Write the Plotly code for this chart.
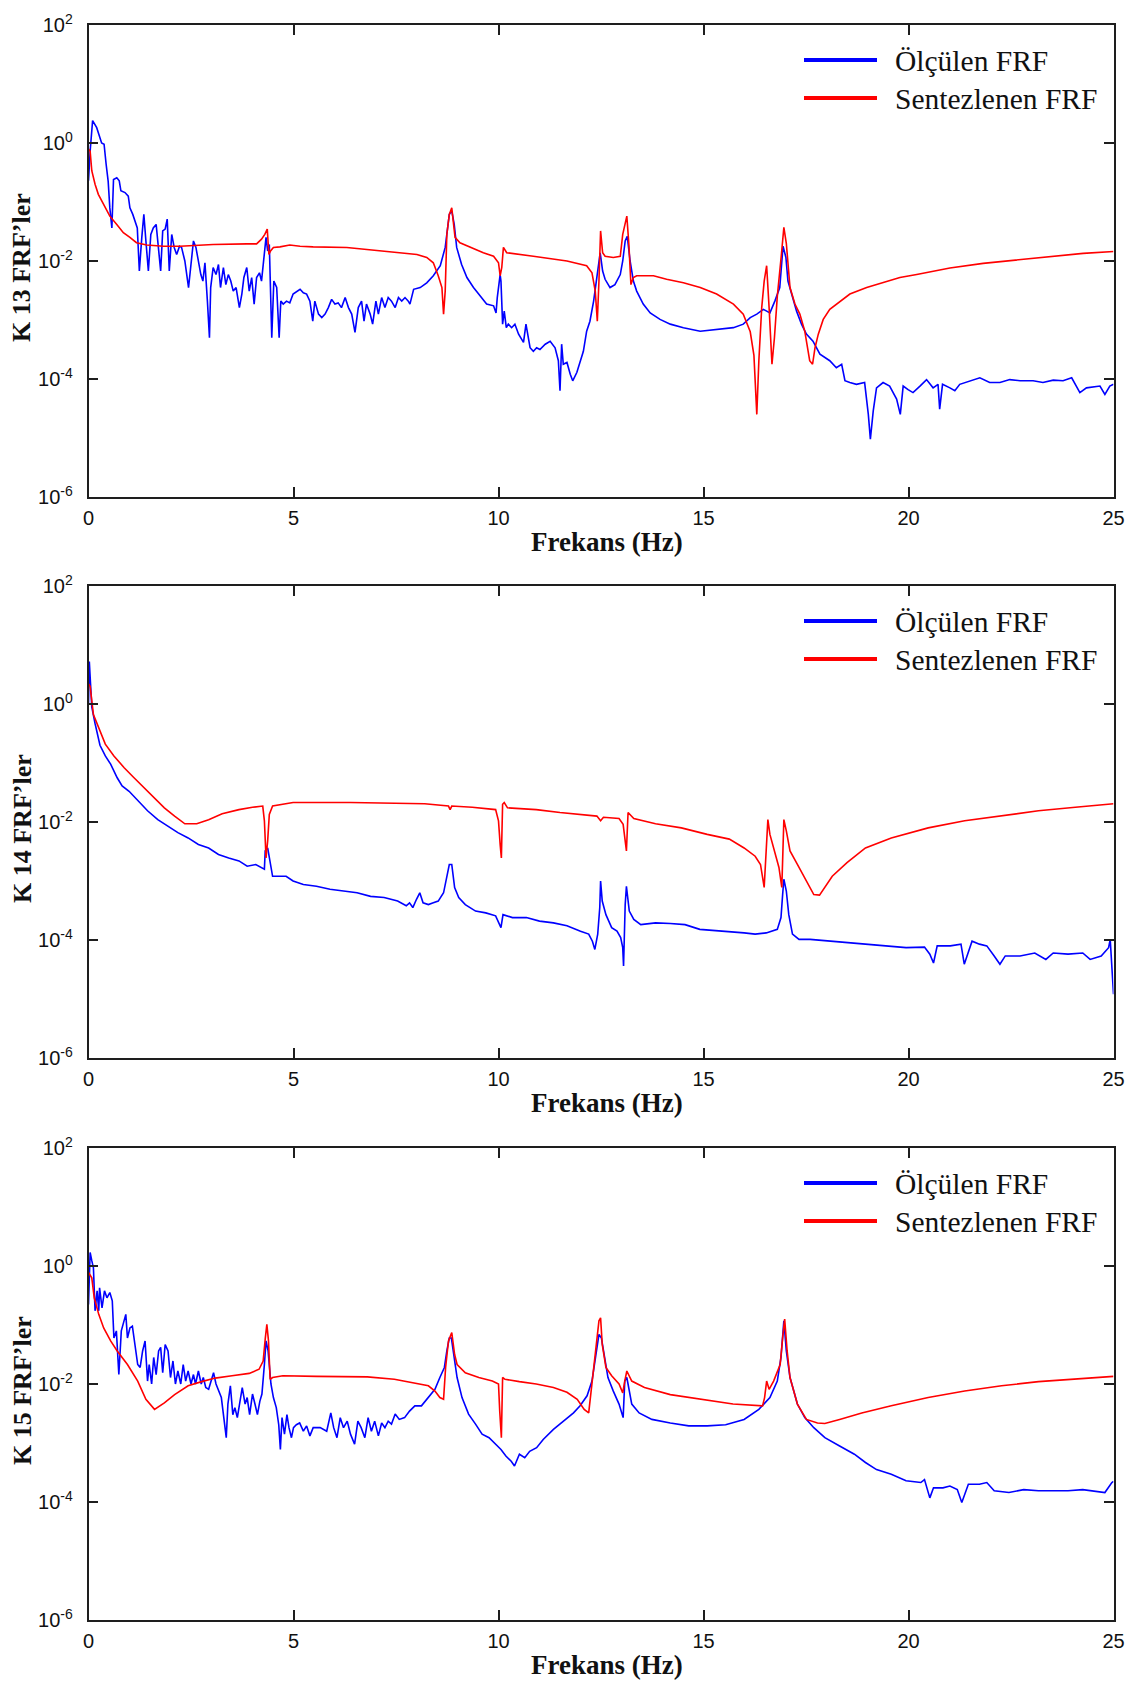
import numpy as np
import plotly.graph_objects as go
from plotly.subplots import make_subplots

# (frequency in Hz, log10 of |FRF|) readings for each curve
k13_olculen = [
    (0.00, -0.64), (0.04, -0.14), (0.10, 0.38), (0.20, 0.26), (0.32, 0.00), (0.38, -0.02),
    (0.43, -0.36), (0.48, -0.65), (0.52, -1.10), (0.57, -1.44), (0.61, -0.62), (0.69, -0.59),
    (0.75, -0.64), (0.79, -0.81), (0.89, -0.84), (0.97, -0.90), (1.01, -1.10), (1.08, -1.21),
    (1.19, -1.44), (1.24, -2.17), (1.30, -1.60), (1.35, -1.21), (1.40, -1.66), (1.46, -2.17),
    (1.52, -1.55), (1.58, -1.44), (1.65, -1.38), (1.70, -1.77), (1.76, -2.17), (1.81, -1.49),
    (1.87, -1.46), (1.92, -1.29), (1.97, -2.17), (2.03, -1.55), (2.09, -1.77), (2.15, -1.89),
    (2.22, -1.75), (2.27, -1.77), (2.35, -2.00), (2.44, -2.45), (2.49, -2.11), (2.56, -1.66),
    (2.62, -1.77), (2.68, -2.00), (2.74, -2.23), (2.79, -2.34), (2.84, -2.03), (2.90, -2.68),
    (2.95, -3.30), (2.98, -2.45), (3.04, -2.11), (3.11, -2.23), (3.17, -2.06), (3.22, -2.45),
    (3.29, -2.11), (3.35, -2.40), (3.41, -2.23), (3.47, -2.34), (3.53, -2.51), (3.60, -2.45),
    (3.68, -2.79), (3.74, -2.56), (3.79, -2.28), (3.86, -2.11), (3.92, -2.51), (3.98, -2.28),
    (4.04, -2.73), (4.10, -2.28), (4.17, -2.20), (4.22, -2.34), (4.28, -1.94), (4.33, -1.60),
    (4.37, -1.83), (4.41, -1.72), (4.47, -3.30), (4.52, -2.34), (4.59, -2.45), (4.65, -3.30),
    (4.69, -2.68), (4.75, -2.73), (4.83, -2.68), (4.91, -2.71), (4.99, -2.56), (5.08, -2.51),
    (5.16, -2.48), (5.24, -2.54), (5.32, -2.56), (5.40, -2.68), (5.47, -3.02), (5.52, -2.68),
    (5.61, -2.90), (5.69, -2.96), (5.77, -2.90), (5.85, -2.79), (5.93, -2.65), (6.01, -2.73),
    (6.09, -2.71), (6.17, -2.79), (6.26, -2.62), (6.34, -2.79), (6.42, -2.90), (6.50, -3.21),
    (6.58, -2.79), (6.66, -2.68), (6.72, -3.02), (6.78, -2.73), (6.87, -2.90), (6.93, -3.07),
    (7.01, -2.68), (7.07, -2.90), (7.15, -2.62), (7.23, -2.79), (7.31, -2.62), (7.39, -2.68),
    (7.48, -2.79), (7.56, -2.62), (7.64, -2.68), (7.72, -2.62), (7.80, -2.68), (7.84, -2.73),
    (7.93, -2.48), (8.09, -2.45), (8.25, -2.37), (8.41, -2.25), (8.58, -2.08), (8.70, -1.77),
    (8.75, -1.46), (8.80, -1.21), (8.86, -1.15), (8.92, -1.38), (8.98, -1.77), (9.10, -2.06),
    (9.23, -2.28), (9.39, -2.45), (9.55, -2.59), (9.71, -2.73), (9.88, -2.76), (9.94, -2.88),
    (9.97, -2.62), (10.04, -2.23), (10.06, -2.34), (10.10, -3.07), (10.14, -2.85), (10.19, -3.13),
    (10.24, -3.07), (10.32, -3.13), (10.40, -3.07), (10.49, -3.24), (10.61, -3.38), (10.67, -3.07),
    (10.77, -3.47), (10.85, -3.53), (10.93, -3.47), (11.01, -3.50), (11.14, -3.41), (11.26, -3.36),
    (11.38, -3.47), (11.46, -3.69), (11.50, -4.20), (11.54, -3.41), (11.58, -3.75), (11.67, -3.72),
    (11.75, -3.92), (11.81, -4.03), (11.91, -3.89), (11.99, -3.69), (12.07, -3.53), (12.15, -3.19),
    (12.23, -3.02), (12.32, -2.68), (12.40, -2.23), (12.45, -1.94), (12.48, -1.86), (12.54, -2.17),
    (12.60, -2.31), (12.72, -2.45), (12.84, -2.40), (12.97, -2.23), (13.03, -2.00), (13.09, -1.66),
    (13.14, -1.58), (13.21, -2.00), (13.29, -2.34), (13.37, -2.51), (13.53, -2.73), (13.70, -2.88),
    (13.94, -2.99), (14.19, -3.07), (14.51, -3.13), (14.92, -3.19), (15.32, -3.16), (15.73, -3.13),
    (15.97, -3.07), (16.14, -2.96), (16.30, -2.90), (16.46, -2.82), (16.54, -2.85), (16.62, -2.88),
    (16.74, -2.68), (16.86, -2.45), (16.94, -1.75), (17.01, -1.94), (17.06, -2.34), (17.15, -2.56),
    (17.27, -2.85), (17.39, -3.07), (17.51, -3.24), (17.67, -3.36), (17.84, -3.58), (18.08, -3.69),
    (18.24, -3.81), (18.37, -3.75), (18.45, -4.03), (18.57, -4.06), (18.73, -4.09), (18.93, -4.06),
    (19.02, -4.60), (19.07, -5.02), (19.14, -4.54), (19.22, -4.15), (19.38, -4.06), (19.54, -4.12),
    (19.71, -4.34), (19.80, -4.60), (19.87, -4.12), (19.99, -4.18), (20.11, -4.23), (20.28, -4.12),
    (20.44, -4.01), (20.60, -4.15), (20.72, -4.09), (20.76, -4.51), (20.83, -4.09), (21.01, -4.15),
    (21.13, -4.20), (21.25, -4.09), (21.50, -4.03), (21.74, -3.98), (21.98, -4.06), (22.23, -4.06),
    (22.47, -4.01), (22.72, -4.03), (23.04, -4.03), (23.28, -4.06), (23.53, -4.02), (23.77, -4.03),
    (23.98, -3.98), (24.18, -4.23), (24.34, -4.15), (24.67, -4.12), (24.79, -4.26), (24.91, -4.12),
    (25.00, -4.09),
]

k13_sentez = [
    (0.00, -0.10), (0.04, -0.14), (0.08, -0.47), (0.16, -0.70), (0.24, -0.87), (0.36, -1.04),
    (0.52, -1.24), (0.69, -1.38), (0.85, -1.52), (1.01, -1.60), (1.17, -1.69), (1.42, -1.73),
    (1.83, -1.75), (2.23, -1.75), (3.04, -1.72), (3.86, -1.71), (4.10, -1.71), (4.22, -1.63),
    (4.30, -1.55), (4.36, -1.46), (4.40, -1.89), (4.44, -1.83), (4.51, -1.77), (4.67, -1.76),
    (4.91, -1.73), (5.16, -1.75), (5.48, -1.76), (6.30, -1.77), (7.11, -1.83), (7.52, -1.86),
    (8.01, -1.89), (8.25, -1.94), (8.41, -2.03), (8.53, -2.25), (8.62, -2.45), (8.66, -2.90),
    (8.70, -2.51), (8.74, -1.55), (8.80, -1.21), (8.86, -1.10), (8.90, -1.38), (8.94, -1.60),
    (9.06, -1.69), (9.31, -1.77), (9.63, -1.86), (9.88, -1.92), (10.00, -2.03), (10.04, -2.25),
    (10.08, -2.11), (10.12, -1.77), (10.20, -1.86), (10.85, -1.92), (11.67, -2.00), (12.15, -2.08),
    (12.28, -2.20), (12.36, -2.51), (12.41, -3.02), (12.45, -2.34), (12.49, -1.49), (12.54, -1.86),
    (12.60, -1.92), (12.80, -1.94), (12.97, -1.92), (13.03, -1.55), (13.09, -1.38), (13.13, -1.24),
    (13.18, -1.72), (13.23, -2.40), (13.29, -2.28), (13.37, -2.25), (13.78, -2.25), (14.10, -2.31),
    (14.51, -2.37), (14.92, -2.45), (15.32, -2.56), (15.73, -2.73), (15.97, -2.90), (16.14, -3.20),
    (16.23, -3.60), (16.30, -4.60), (16.35, -3.69), (16.42, -2.79), (16.48, -2.34), (16.54, -2.08),
    (16.60, -2.79), (16.67, -3.75), (16.73, -3.30), (16.80, -2.60), (16.90, -1.89), (16.96, -1.43),
    (17.02, -1.70), (17.11, -2.45), (17.23, -2.73), (17.35, -2.90), (17.47, -3.19), (17.59, -3.69),
    (17.66, -3.75), (17.72, -3.47), (17.80, -3.24), (17.92, -2.99), (18.08, -2.82), (18.33, -2.68),
    (18.57, -2.56), (18.98, -2.45), (19.38, -2.37), (19.79, -2.28), (20.20, -2.23), (21.01, -2.12),
    (21.82, -2.04), (22.63, -1.98), (23.45, -1.93), (24.26, -1.87), (25.00, -1.84),
]

k14_olculen = [
    (0.00, 0.00), (0.02, 0.72), (0.05, 0.34), (0.08, -0.05), (0.16, -0.33), (0.28, -0.70),
    (0.41, -0.88), (0.54, -1.02), (0.70, -1.25), (0.82, -1.39), (0.99, -1.48), (1.20, -1.64),
    (1.44, -1.81), (1.69, -1.96), (1.94, -2.07), (2.18, -2.18), (2.43, -2.27), (2.68, -2.38),
    (2.93, -2.44), (3.17, -2.55), (3.42, -2.61), (3.67, -2.66), (3.87, -2.75), (4.08, -2.72),
    (4.29, -2.80), (4.31, -2.49), (4.37, -2.44), (4.43, -2.66), (4.49, -2.92), (4.66, -2.92),
    (4.82, -2.92), (4.99, -3.00), (5.24, -3.06), (5.56, -3.09), (5.89, -3.14), (6.22, -3.17),
    (6.55, -3.20), (6.88, -3.26), (7.21, -3.28), (7.54, -3.34), (7.75, -3.42), (7.83, -3.37),
    (7.91, -3.45), (8.00, -3.31), (8.08, -3.20), (8.16, -3.37), (8.29, -3.40), (8.41, -3.37),
    (8.53, -3.34), (8.66, -3.20), (8.74, -2.94), (8.80, -2.72), (8.86, -2.72), (8.93, -3.11),
    (9.03, -3.28), (9.19, -3.40), (9.44, -3.51), (9.69, -3.54), (9.93, -3.59), (10.02, -3.71),
    (10.06, -3.79), (10.11, -3.57), (10.34, -3.62), (10.68, -3.62), (11.00, -3.68), (11.34, -3.71),
    (11.67, -3.76), (12.00, -3.85), (12.20, -3.90), (12.29, -4.02), (12.35, -4.16), (12.42, -3.90),
    (12.47, -3.45), (12.49, -3.00), (12.53, -3.34), (12.62, -3.57), (12.76, -3.79), (12.89, -3.85),
    (12.98, -3.96), (13.03, -4.13), (13.05, -4.44), (13.09, -3.40), (13.12, -3.09), (13.19, -3.51),
    (13.30, -3.65), (13.47, -3.74), (13.83, -3.71), (14.19, -3.72), (14.55, -3.74), (14.91, -3.82),
    (15.27, -3.84), (15.63, -3.85), (15.99, -3.88), (16.26, -3.90), (16.53, -3.88), (16.80, -3.82),
    (16.89, -3.62), (16.93, -3.23), (16.96, -2.97), (17.02, -3.17), (17.08, -3.57), (17.17, -3.90),
    (17.33, -3.99), (17.60, -3.99), (17.96, -4.01), (18.68, -4.05), (19.40, -4.10), (19.94, -4.13),
    (20.39, -4.12), (20.52, -4.24), (20.61, -4.39), (20.70, -4.10), (21.02, -4.10), (21.28, -4.07),
    (21.36, -4.41), (21.46, -4.19), (21.55, -4.02), (21.73, -4.07), (21.91, -4.10), (22.09, -4.27),
    (22.23, -4.41), (22.36, -4.27), (22.72, -4.27), (23.08, -4.22), (23.35, -4.33), (23.53, -4.22),
    (23.89, -4.24), (24.25, -4.22), (24.43, -4.33), (24.70, -4.27), (24.88, -4.13), (24.92, -3.99),
    (24.97, -4.70), (25.00, -4.92),
]

k14_sentez = [
    (0.00, 0.34), (0.04, 0.30), (0.12, -0.18), (0.25, -0.40), (0.41, -0.68), (0.62, -0.88),
    (0.87, -1.08), (1.11, -1.25), (1.36, -1.42), (1.61, -1.59), (1.85, -1.76), (2.10, -1.90),
    (2.35, -2.03), (2.64, -2.03), (2.93, -1.96), (3.26, -1.86), (3.67, -1.79), (4.00, -1.75),
    (4.25, -1.73), (4.29, -1.98), (4.33, -2.61), (4.37, -2.32), (4.41, -1.87), (4.49, -1.73),
    (4.99, -1.67), (6.39, -1.67), (8.20, -1.69), (8.78, -1.73), (8.82, -1.79), (8.86, -1.73),
    (9.36, -1.75), (9.93, -1.79), (10.00, -1.98), (10.04, -2.38), (10.07, -2.61), (10.10, -1.70),
    (10.14, -1.67), (10.22, -1.76), (10.92, -1.79), (11.50, -1.84), (12.04, -1.87), (12.40, -1.90),
    (12.49, -1.98), (12.56, -1.92), (12.94, -1.94), (13.04, -2.04), (13.12, -2.49), (13.16, -1.84),
    (13.30, -1.94), (13.83, -2.03), (14.46, -2.10), (15.09, -2.21), (15.63, -2.29), (15.99, -2.44),
    (16.26, -2.58), (16.39, -2.72), (16.48, -3.11), (16.53, -2.32), (16.57, -1.96), (16.62, -2.21),
    (16.71, -2.44), (16.84, -2.77), (16.91, -3.11), (16.96, -1.96), (17.02, -2.15), (17.11, -2.49),
    (17.29, -2.72), (17.51, -3.00), (17.69, -3.23), (17.83, -3.24), (17.96, -3.11), (18.14, -2.92),
    (18.50, -2.69), (18.95, -2.44), (19.58, -2.27), (20.48, -2.10), (21.37, -1.98), (22.27, -1.90),
    (23.17, -1.81), (24.07, -1.75), (24.96, -1.70), (25.00, -1.69),
]

k15_olculen = [
    (0.00, -0.65), (0.04, 0.23), (0.08, 0.09), (0.12, -0.03), (0.16, -0.76), (0.21, -0.42),
    (0.25, -0.76), (0.27, -0.37), (0.33, -0.71), (0.39, -0.42), (0.45, -0.54), (0.52, -0.45),
    (0.58, -0.59), (0.62, -1.22), (0.68, -1.10), (0.74, -1.84), (0.80, -1.10), (0.87, -0.93),
    (0.91, -0.82), (0.95, -1.22), (1.01, -1.05), (1.07, -1.02), (1.13, -1.33), (1.20, -1.67),
    (1.26, -1.72), (1.32, -1.44), (1.38, -1.27), (1.44, -1.95), (1.48, -1.67), (1.54, -2.00),
    (1.59, -1.55), (1.65, -1.84), (1.71, -1.44), (1.76, -1.38), (1.81, -1.81), (1.87, -1.33),
    (1.94, -1.44), (2.00, -1.89), (2.06, -1.61), (2.12, -2.00), (2.18, -1.78), (2.25, -2.00),
    (2.31, -1.67), (2.37, -1.95), (2.43, -1.78), (2.50, -2.00), (2.56, -1.84), (2.61, -2.00),
    (2.68, -1.78), (2.75, -2.00), (2.80, -1.89), (2.86, -2.06), (2.93, -2.09), (2.99, -1.95),
    (3.05, -1.81), (3.11, -2.00), (3.17, -2.12), (3.24, -2.23), (3.30, -2.57), (3.36, -2.91),
    (3.40, -2.34), (3.46, -2.03), (3.52, -2.52), (3.57, -2.40), (3.63, -2.57), (3.69, -2.29),
    (3.75, -2.06), (3.82, -2.34), (3.87, -2.23), (3.93, -2.52), (4.00, -2.17), (4.06, -2.34),
    (4.12, -2.52), (4.18, -2.29), (4.23, -2.17), (4.29, -1.67), (4.33, -1.27), (4.38, -1.44),
    (4.41, -1.67), (4.45, -2.00), (4.51, -2.23), (4.58, -2.40), (4.64, -2.69), (4.68, -3.11),
    (4.72, -2.57), (4.78, -2.85), (4.84, -2.52), (4.89, -2.74), (4.95, -2.91), (5.00, -2.74),
    (5.07, -2.69), (5.15, -2.66), (5.24, -2.80), (5.32, -2.71), (5.40, -2.88), (5.48, -2.74),
    (5.65, -2.74), (5.81, -2.80), (5.91, -2.49), (5.98, -2.74), (6.06, -2.91), (6.14, -2.57),
    (6.22, -2.74), (6.31, -2.63), (6.39, -2.85), (6.49, -3.02), (6.57, -2.63), (6.65, -2.74),
    (6.74, -2.91), (6.82, -2.57), (6.90, -2.80), (6.98, -2.63), (7.07, -2.88), (7.15, -2.66),
    (7.23, -2.74), (7.31, -2.63), (7.39, -2.68), (7.48, -2.51), (7.58, -2.60), (7.71, -2.57),
    (7.83, -2.46), (7.96, -2.37), (8.12, -2.37), (8.29, -2.23), (8.45, -2.09), (8.57, -1.89),
    (8.68, -1.72), (8.74, -1.44), (8.80, -1.22), (8.85, -1.22), (8.91, -1.55), (8.99, -1.89),
    (9.11, -2.23), (9.27, -2.51), (9.44, -2.68), (9.60, -2.85), (9.77, -2.91), (9.93, -3.02),
    (10.06, -3.11), (10.18, -3.22), (10.31, -3.31), (10.39, -3.39), (10.51, -3.19), (10.64, -3.25),
    (10.76, -3.14), (10.93, -3.08), (11.09, -2.94), (11.34, -2.77), (11.58, -2.63), (11.83, -2.49),
    (11.99, -2.37), (12.16, -2.20), (12.28, -1.95), (12.36, -1.55), (12.45, -1.16), (12.51, -1.22),
    (12.58, -1.55), (12.67, -1.89), (12.80, -2.12), (12.94, -2.34), (13.04, -2.57), (13.08, -1.95),
    (13.13, -1.89), (13.25, -2.34), (13.43, -2.49), (13.74, -2.60), (14.19, -2.66), (14.64, -2.71),
    (15.09, -2.71), (15.54, -2.69), (15.99, -2.60), (16.35, -2.43), (16.62, -2.23), (16.80, -1.95),
    (16.89, -1.55), (16.96, -0.93), (17.02, -1.44), (17.11, -1.89), (17.29, -2.34), (17.47, -2.57),
    (17.69, -2.74), (17.96, -2.91), (18.32, -3.05), (18.68, -3.19), (18.95, -3.33), (19.22, -3.45),
    (19.58, -3.53), (19.94, -3.64), (20.30, -3.67), (20.39, -3.62), (20.52, -3.93), (20.61, -3.76),
    (20.84, -3.76), (21.01, -3.73), (21.19, -3.79), (21.30, -4.01), (21.46, -3.70), (21.73, -3.70),
    (21.91, -3.67), (22.09, -3.81), (22.45, -3.84), (22.81, -3.79), (23.17, -3.81), (23.53, -3.81),
    (23.89, -3.81), (24.25, -3.79), (24.52, -3.81), (24.79, -3.84), (24.96, -3.67), (25.00, -3.65),
]

k15_sentez = [
    (0.00, -0.11), (0.08, -0.20), (0.14, -0.54), (0.25, -0.82), (0.37, -1.05), (0.54, -1.27),
    (0.70, -1.44), (0.95, -1.67), (1.20, -1.95), (1.40, -2.26), (1.61, -2.43), (1.85, -2.32),
    (2.10, -2.18), (2.43, -2.03), (2.76, -1.96), (3.09, -1.90), (3.50, -1.86), (3.92, -1.82),
    (4.16, -1.75), (4.26, -1.61), (4.31, -1.24), (4.35, -0.99), (4.39, -1.27), (4.43, -1.92),
    (4.49, -1.89), (4.74, -1.86), (5.56, -1.87), (6.80, -1.88), (7.46, -1.92), (7.96, -1.98),
    (8.29, -2.03), (8.45, -2.12), (8.57, -2.23), (8.66, -2.26), (8.71, -1.72), (8.78, -1.27),
    (8.86, -1.13), (8.93, -1.50), (8.99, -1.67), (9.19, -1.81), (9.52, -1.89), (9.85, -1.95),
    (10.00, -2.00), (10.03, -2.46), (10.07, -2.91), (10.10, -1.89), (10.16, -1.92), (10.51, -1.96),
    (10.92, -2.00), (11.34, -2.06), (11.67, -2.14), (11.92, -2.26), (12.09, -2.43), (12.20, -2.49),
    (12.28, -2.00), (12.36, -1.50), (12.45, -0.93), (12.49, -0.88), (12.53, -1.33), (12.62, -1.72),
    (12.76, -1.86), (12.94, -2.00), (13.03, -2.15), (13.08, -1.95), (13.13, -1.78), (13.25, -1.95),
    (13.56, -2.06), (14.19, -2.18), (14.91, -2.26), (15.72, -2.34), (16.44, -2.37), (16.49, -2.23),
    (16.54, -1.95), (16.60, -2.09), (16.71, -1.95), (16.87, -1.67), (16.93, -1.22), (16.98, -0.90),
    (17.04, -1.44), (17.11, -1.89), (17.29, -2.34), (17.51, -2.60), (17.78, -2.66), (17.96, -2.67),
    (18.32, -2.60), (18.86, -2.49), (19.58, -2.37), (20.48, -2.23), (21.37, -2.12), (22.27, -2.03),
    (23.17, -1.96), (24.07, -1.92), (24.96, -1.87), (25.00, -1.87),
]

panel_titles = ["K 13 FRF\u2019ler", "K 14 FRF\u2019ler", "K 15 FRF\u2019ler"]
series_names = ["\u00d6l\u00e7\u00fclen FRF", "Sentezlenen FRF"]
x_ticks = [0, 5, 10, 15, 20, 25]
y_exponents = [-6, -4, -2, 0, 2]
x_title = "Frekans (Hz)"

panels = [(k13_olculen, k13_sentez), (k14_olculen, k14_sentez), (k15_olculen, k15_sentez)]
colors = ["#0000ff", "#ff0000"]

W, H = 1137, 1686
LEFT, RIGHT = 88.5, 1113.5
TOPS = [25, 586, 1148]
PH = 472
SERIF = "Liberation Serif, Times New Roman, serif"


def px(x):
    return x / W


def py(y):
    return 1 - y / H


fig = make_subplots(rows=3, cols=1)

for i, pair in enumerate(panels):
    for j, series in enumerate(pair):
        f, lg = zip(*series)
        fig.add_trace(
            go.Scatter(
                x=list(f), y=list(10.0 ** np.array(lg)), mode="lines",
                line=dict(color=colors[j], width=1.6),
                name=series_names[j], showlegend=False,
            ),
            row=i + 1, col=1,
        )

axis_line = dict(showline=True, linecolor="#1e1e1e", linewidth=1.5, mirror="ticks",
                 ticks="inside", ticklen=10, tickwidth=1.5, tickcolor="#1e1e1e",
                 showgrid=False, zeroline=False, automargin=False,
                 tickfont=dict(family="Liberation Sans, Arial, sans-serif", size=20, color="#111"))

annotations = []
shapes = []
for i, top in enumerate(TOPS):
    bottom = top + PH
    sfx = "" if i == 0 else str(i + 1)
    fig.layout["xaxis" + sfx].update(
        domain=[px(LEFT), px(RIGHT)], range=[0, 25], tickvals=x_ticks,
        ticklabelstandoff=2, **axis_line)
    fig.layout["yaxis" + sfx].update(
        domain=[py(bottom), py(top)], type="log", range=[-6, 2],
        tickvals=[10.0 ** e for e in y_exponents],
        ticktext=["10<sup>%d</sup>" % e for e in y_exponents],
        ticklabelstandoff=10, **axis_line)

    # axis titles
    annotations.append(dict(
        text="<b>%s</b>" % x_title, x=px(607), y=py(bottom + 45), xref="paper", yref="paper",
        showarrow=False, xanchor="center", yanchor="middle",
        font=dict(family=SERIF, size=27, color="#111"),
    ))
    annotations.append(dict(
        text="<b>%s</b>" % panel_titles[i], x=px(22), y=py(top + 243), xref="paper", yref="paper",
        showarrow=False, xanchor="center", yanchor="middle", textangle=-90,
        font=dict(family=SERIF, size=26, color="#111"),
    ))

    # legend entries: line sample + label
    for j in range(2):
        ly = top + 35 + 38 * j
        shapes.append(dict(type="line", xref="paper", yref="paper",
                           x0=px(804), x1=px(877), y0=py(ly), y1=py(ly),
                           line=dict(color=colors[j], width=4)))
        annotations.append(dict(
            text=series_names[j], x=px(893), y=py(ly + 1), xref="paper", yref="paper",
            showarrow=False, xanchor="left", yanchor="middle",
            font=dict(family=SERIF, size=29.5, color="#111"),
        ))

fig.update_layout(
    width=W, height=H, margin=dict(l=0, r=0, t=0, b=0, autoexpand=False),
    paper_bgcolor="white", plot_bgcolor="white",
    annotations=annotations, shapes=shapes, showlegend=False,
)

fig.write_html("out.html", config={"displayModeBar": False})
